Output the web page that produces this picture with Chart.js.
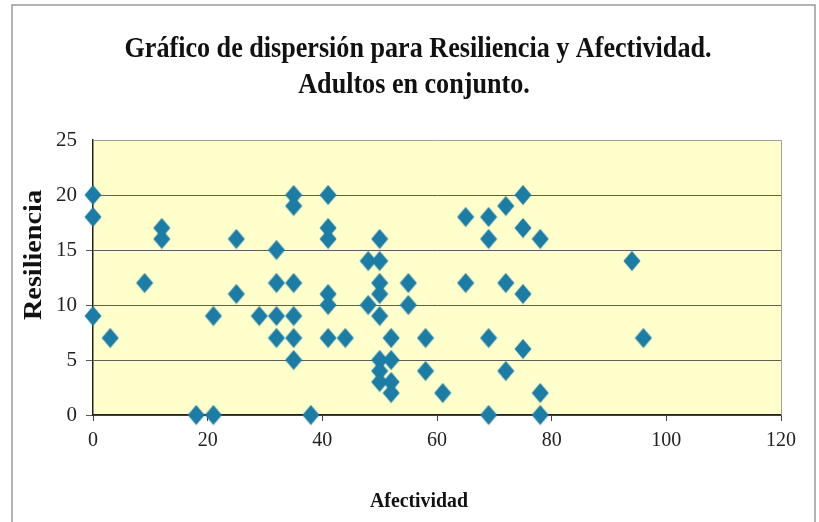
<!DOCTYPE html>
<html>
<head>
<meta charset="utf-8">
<script src="https://cdn.jsdelivr.net/npm/chart.js@4"></script>
<style>
  body{margin:0;background:#fff;}
  #wrap{width:819px;height:522px;position:relative;}
</style>
</head>
<body>
<div id="wrap"><canvas id="chart" width="819" height="522"></canvas></div>
<script>
// Afectividad (x) y Resiliencia (y)
const afectividad=[0,0,0,3,9,12,12,18,21,21,25,25,29,32,32,32,32,35,35,35,35,35,35,38,41,41,41,41,41,41,44,48,48,50,50,50,50,50,50,50,50,52,52,52,52,55,55,58,58,61,65,65,69,69,69,69,72,72,72,75,75,75,75,78,78,78,94,96];
const resiliencia=[20,18,9,7,12,17,16,0,0,9,16,11,9,15,12,9,7,20,19,12,9,7,5,0,20,17,16,11,10,7,7,14,10,16,14,12,11,9,5,4,3,7,5,3,2,12,10,7,4,2,18,12,18,16,7,0,19,12,4,20,17,11,6,16,2,0,14,7];
const xTicks=[0,20,40,60,80,100,120];
const yTicks=[0,5,10,15,20,25];
const titulo=['Gráfico de dispersión para Resiliencia y Afectividad.','Adultos en conjunto.'];
const tituloX='Afectividad';
const tituloY='Resiliencia';

const puntos=afectividad.map((a,i)=>({x:a,y:resiliencia[i]}));
const serif="'Liberation Serif','Times New Roman',serif";

// rombo un poco más alto que ancho, como en el original
const rombo=document.createElement('canvas');
rombo.width=18;rombo.height=21;
(function(){
  const c=rombo.getContext('2d');
  c.fillStyle='#1b7ca5';
  c.beginPath();
  c.moveTo(9,0.5);c.lineTo(17.5,10.5);c.lineTo(9,20.5);c.lineTo(0.5,10.5);c.closePath();
  c.fill();
})();

// texto condensado (como el original escaneado)
function texto(ctx,t,x,y,size,ancho,rot){
  ctx.save();
  ctx.font='bold '+size+'px '+serif;
  ctx.fillStyle='#111';
  ctx.textAlign='center';
  ctx.textBaseline='alphabetic';
  const w=ctx.measureText(t).width;
  ctx.translate(x,y);
  if(rot) ctx.rotate(-Math.PI/2);
  ctx.scale(ancho?ancho/w:1,1);
  ctx.fillText(t,0,0);
  ctx.restore();
  return w;
}

const fondo={
  id:'fondo',
  beforeDraw(chart){
    const {ctx,chartArea:a}=chart;
    ctx.save();
    ctx.strokeStyle='#9a9a9a';ctx.lineWidth=1.5;
    ctx.strokeRect(12,5,803,530);
    ctx.fillStyle='#ffffcc';
    ctx.fillRect(a.left,a.top,a.right-a.left,a.bottom-a.top);
    ctx.restore();
  },
  beforeDatasetsDraw(chart){
    const {ctx,chartArea:a}=chart;
    ctx.save();
    ctx.strokeStyle='#a0a0a0';ctx.lineWidth=1;
    ctx.beginPath();
    ctx.moveTo(a.left,a.top+0.5);ctx.lineTo(a.right+0.5,a.top+0.5);ctx.lineTo(a.right+0.5,a.bottom);
    ctx.stroke();
    ctx.restore();
  },
  afterDraw(chart){
    const ctx=chart.ctx;
    ctx.save();
    ctx.font='bold 30px '+serif;
    const w1=ctx.measureText(titulo[0]).width;
    const w2=ctx.measureText(titulo[1]).width;
    ctx.restore();
    const k=587/w1;
    texto(ctx,titulo[0],418,57,30,w1*k);
    texto(ctx,titulo[1],414,93,30,w2*k);
    texto(ctx,tituloX,419,507,21,98);
    texto(ctx,tituloY,41,255,26,130,true);
  }
};

new Chart('chart',{
  type:'scatter',
  data:{datasets:[{
    data:puntos,
    clip:false,
    pointStyle:rombo,
    backgroundColor:'#1b7ca5',
    borderColor:'#1b7ca5'
  }]},
  options:{
    responsive:false,
    animation:false,
    layout:{padding:{left:0,right:38,top:140,bottom:0}},
    plugins:{
      legend:{display:false},
      tooltip:{enabled:false},
      title:{display:false}
    },
    scales:{
      x:{type:'linear',min:0,max:120,
        afterBuildTicks:s=>{s.ticks=xTicks.map(v=>({value:v}));},
        afterFit:s=>{s.height=107;},
        border:{display:true,color:'#222',width:1.5},
        grid:{drawOnChartArea:false,drawTicks:true,tickLength:6,color:'#444'},
        ticks:{color:'#222',font:{family:serif,size:20},padding:8,maxRotation:0}
      },
      y:{type:'linear',min:0,max:25,
        afterBuildTicks:s=>{s.ticks=yTicks.map(v=>({value:v}));},
        afterFit:s=>{s.width=93;},
        border:{display:true,color:'#222',width:1.5},
        grid:{drawOnChartArea:true,drawTicks:true,tickLength:7,
          color:ctx=>ctx.tick&&ctx.tick.value===25?'rgba(0,0,0,0)':'#5e5e58'},
        ticks:{color:'#222',font:{family:serif,size:21},padding:9}
      }
    }
  },
  plugins:[fondo]
});
</script>
</body>
</html>
